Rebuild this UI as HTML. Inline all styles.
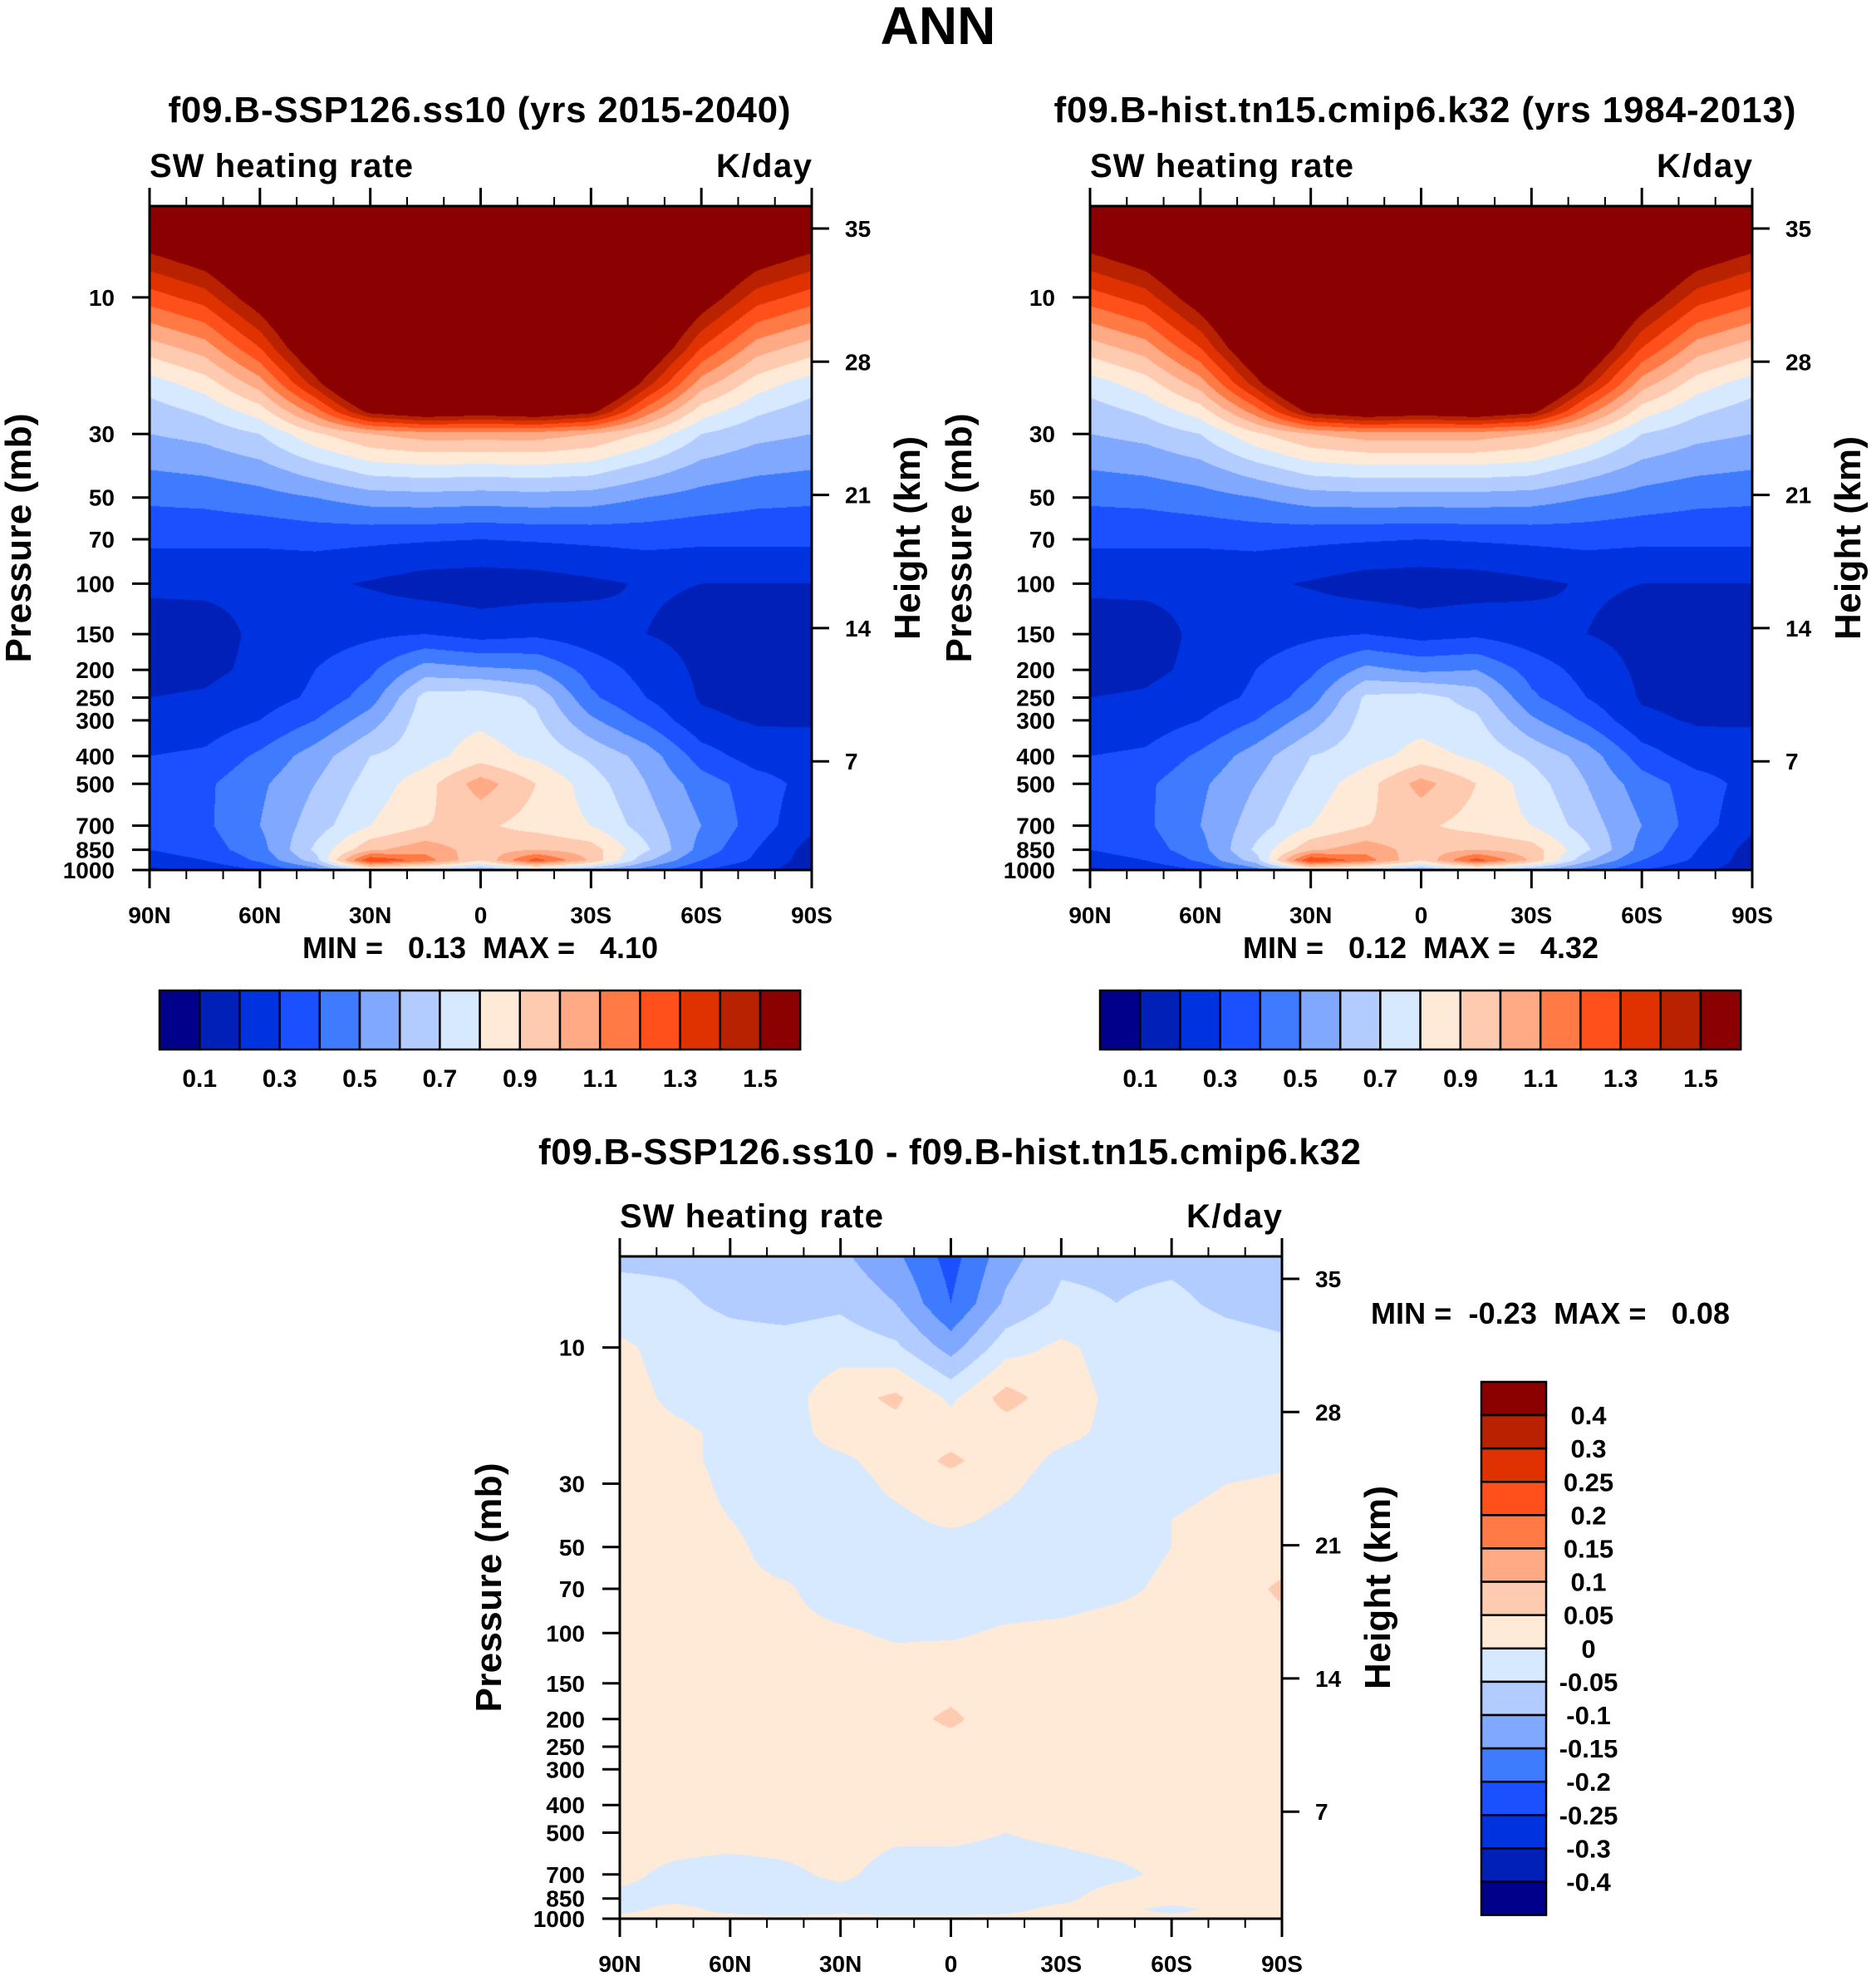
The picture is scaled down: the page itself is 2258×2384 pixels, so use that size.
<!DOCTYPE html>
<html><head><meta charset="utf-8"><title>ANN SW heating rate</title>
<style>
html,body{margin:0;padding:0;background:#fff;}
#wrap{position:relative;width:2258px;height:2384px;overflow:hidden;background:#fff;}
canvas{position:absolute;}
svg{position:absolute;left:0;top:0;}
text{font-family:"Liberation Sans",sans-serif;font-weight:bold;fill:#000;white-space:pre;}
</style></head>
<body>
<div id="wrap">
<canvas id="c1" width="797" height="799" style="left:180px;top:248px"></canvas>
<canvas id="c2" width="797" height="799" style="left:1312px;top:248px"></canvas>
<canvas id="c3" width="797" height="797" style="left:746px;top:1512px"></canvas>
<svg id="svg" width="2258" height="2384" xmlns="http://www.w3.org/2000/svg">
<text x="1129" y="53" font-size="64" text-anchor="middle">ANN</text>
</svg>
</div>
<script>
// ---------- data ----------
const lats = [90,75,60,45,30,15,0,-15,-30,-45,-60,-75,-90];
const levels = [4.8,7,10,15,20,25,30,40,50,70,100,150,200,250,300,400,500,700,850,925,1000];
const sspValues = [
[2,2,2,2,2,2,2,2,2,2,2,2,2],
[1.5,1.6,1.8,2,2,2,2,2,2,2,1.8,1.6,1.5],
[1.25,1.35,1.6,1.9,2,2,2,2,2,1.9,1.6,1.35,1.25],
[0.95,1.05,1.3,1.7,2,2,2,2,2,1.7,1.3,1.05,0.95],
[0.75,0.85,1.05,1.45,1.9,2,2,2,1.9,1.45,1.05,0.85,0.75],
[0.65,0.72,0.85,1.15,1.55,1.65,1.6,1.65,1.55,1.15,0.85,0.72,0.65],
[0.6,0.63,0.7,0.88,1.0,1.05,1.05,1.05,1.0,0.88,0.7,0.63,0.6],
[0.5,0.52,0.56,0.65,0.74,0.76,0.75,0.76,0.74,0.65,0.56,0.52,0.5],
[0.42,0.43,0.46,0.5,0.55,0.56,0.55,0.56,0.55,0.5,0.46,0.43,0.42],
[0.32,0.32,0.32,0.33,0.32,0.31,0.3,0.31,0.32,0.33,0.32,0.32,0.32],
[0.22,0.22,0.22,0.22,0.19,0.15,0.14,0.15,0.18,0.21,0.2,0.2,0.2],
[0.15,0.16,0.22,0.25,0.28,0.3,0.26,0.28,0.24,0.2,0.17,0.16,0.16],
[0.17,0.18,0.22,0.3,0.38,0.55,0.52,0.5,0.36,0.26,0.18,0.16,0.16],
[0.2,0.21,0.25,0.32,0.45,0.74,0.76,0.68,0.42,0.3,0.19,0.17,0.17],
[0.22,0.24,0.3,0.4,0.55,0.76,0.78,0.72,0.52,0.38,0.22,0.19,0.19],
[0.3,0.32,0.42,0.55,0.7,0.76,0.85,0.78,0.68,0.56,0.35,0.25,0.24],
[0.34,0.38,0.48,0.6,0.74,0.86,1.05,0.9,0.75,0.6,0.45,0.35,0.26],
[0.32,0.38,0.5,0.65,0.8,0.9,0.92,0.86,0.8,0.65,0.5,0.35,0.22],
[0.3,0.35,0.46,0.72,0.98,1.06,0.95,1.0,0.95,0.72,0.46,0.3,0.16],
[0.25,0.3,0.42,0.65,1.3,1.15,0.9,1.25,0.98,0.62,0.4,0.28,0.15],
[0.18,0.22,0.3,0.45,0.75,0.7,0.6,0.7,0.6,0.45,0.3,0.22,0.15]
];
const histValues = [
[2,2,2,2,2,2,2,2,2,2,2,2,2],
[1.5,1.6,1.8,2,2,2,2,2,2,2,1.8,1.6,1.5],
[1.25,1.35,1.6,1.9,2,2,2,2,2,1.9,1.6,1.35,1.25],
[0.95,1.05,1.3,1.7,2,2,2,2,2,1.7,1.3,1.05,0.95],
[0.75,0.85,1.05,1.45,1.9,2,2,2,1.9,1.45,1.05,0.85,0.75],
[0.65,0.72,0.85,1.15,1.55,1.65,1.6,1.65,1.55,1.15,0.85,0.72,0.65],
[0.6,0.63,0.7,0.88,1.0,1.05,1.05,1.05,1.0,0.88,0.7,0.63,0.6],
[0.5,0.52,0.56,0.65,0.74,0.76,0.76,0.76,0.74,0.65,0.56,0.52,0.5],
[0.42,0.43,0.46,0.5,0.55,0.56,0.56,0.56,0.55,0.5,0.46,0.43,0.42],
[0.32,0.32,0.32,0.33,0.32,0.31,0.3,0.31,0.32,0.33,0.32,0.32,0.32],
[0.22,0.22,0.22,0.22,0.19,0.15,0.14,0.15,0.18,0.21,0.2,0.2,0.2],
[0.15,0.16,0.22,0.25,0.28,0.3,0.26,0.28,0.24,0.2,0.17,0.16,0.16],
[0.17,0.18,0.22,0.3,0.38,0.53,0.48,0.5,0.36,0.26,0.18,0.16,0.16],
[0.2,0.21,0.25,0.32,0.45,0.72,0.74,0.66,0.42,0.3,0.19,0.17,0.17],
[0.22,0.24,0.3,0.4,0.55,0.74,0.76,0.72,0.52,0.38,0.22,0.19,0.19],
[0.3,0.32,0.42,0.55,0.7,0.76,0.84,0.78,0.68,0.56,0.35,0.25,0.24],
[0.34,0.38,0.48,0.6,0.74,0.86,1.04,0.9,0.75,0.6,0.45,0.35,0.26],
[0.32,0.38,0.5,0.65,0.8,0.9,0.92,0.86,0.8,0.65,0.5,0.35,0.22],
[0.3,0.35,0.46,0.72,0.98,1.06,0.95,1.0,0.95,0.72,0.46,0.3,0.16],
[0.25,0.3,0.42,0.65,1.3,1.15,0.9,1.25,0.98,0.62,0.4,0.28,0.15],
[0.18,0.22,0.3,0.45,0.75,0.7,0.6,0.7,0.6,0.45,0.3,0.22,0.15]
];
const diffValues = [
[-0.06,-0.06,-0.07,-0.08,-0.09,-0.14,-0.22,-0.12,-0.06,-0.06,-0.06,-0.07,-0.08],
[-0.03,-0.04,-0.06,-0.07,-0.06,-0.1,-0.2,-0.09,-0.04,-0.05,-0.04,-0.06,-0.07],
[0.01,-0.02,-0.03,-0.03,-0.02,-0.04,-0.12,-0.02,0.01,-0.02,-0.02,-0.03,-0.04],
[0.02,-0.01,-0.02,-0.02,0.03,0.06,-0.01,0.07,0.02,-0.01,-0.02,-0.02,-0.02],
[0.02,0.01,-0.01,-0.02,0.02,0.03,0.03,0.02,0.01,-0.01,-0.02,-0.02,-0.02],
[0.02,0.01,-0.01,-0.02,-0.01,0.02,0.06,0.02,-0.01,-0.02,-0.02,-0.02,-0.01],
[0.02,0.02,-0.01,-0.02,-0.02,0.01,0.03,0.01,-0.02,-0.02,-0.01,0.0,0.01],
[0.03,0.02,0.0,-0.02,-0.02,-0.01,0.01,-0.01,-0.02,-0.02,0.0,0.01,0.02],
[0.03,0.02,0.01,-0.02,-0.02,-0.02,-0.02,-0.02,-0.02,-0.02,0.0,0.02,0.02],
[0.03,0.02,0.01,0.005,-0.02,-0.02,-0.02,-0.02,-0.02,-0.01,0.01,0.02,0.06],
[0.03,0.02,0.02,0.01,0.005,-0.005,-0.005,0.005,0.01,0.02,0.02,0.02,0.03],
[0.02,0.02,0.02,0.02,0.02,0.02,0.03,0.02,0.02,0.02,0.02,0.02,0.02],
[0.02,0.02,0.02,0.02,0.02,0.03,0.06,0.02,0.02,0.02,0.02,0.02,0.02],
[0.02,0.02,0.02,0.02,0.02,0.02,0.03,0.02,0.02,0.02,0.02,0.02,0.02],
[0.02,0.02,0.02,0.02,0.02,0.02,0.02,0.02,0.02,0.02,0.02,0.02,0.02],
[0.02,0.02,0.02,0.02,0.02,0.02,0.02,0.02,0.02,0.02,0.02,0.02,0.02],
[0.02,0.02,0.02,0.02,0.02,0.01,0.01,0.0,0.01,0.02,0.02,0.02,0.02],
[0.01,-0.01,-0.02,-0.01,0.01,-0.02,-0.02,-0.02,-0.02,-0.01,0.01,0.02,0.02],
[-0.01,-0.01,-0.02,-0.02,-0.02,-0.02,-0.02,-0.02,-0.01,0.02,0.02,0.02,0.02],
[-0.01,0.01,-0.01,-0.02,-0.01,-0.02,-0.02,-0.01,0.01,0.01,-0.01,0.01,0.01],
[0.01,0.01,0.01,0.01,0.01,0.01,0.01,0.01,0.01,0.01,0.01,0.01,0.01]
];
const absBounds = [0.1,0.2,0.3,0.4,0.5,0.6,0.7,0.8,0.9,1.0,1.1,1.2,1.3,1.4,1.5];
const absLabels = ["0.1","0.3","0.5","0.7","0.9","1.1","1.3","1.5"];
const diffBounds = [-0.4,-0.3,-0.25,-0.2,-0.15,-0.1,-0.05,0,0.05,0.1,0.15,0.2,0.25,0.3,0.4];
const diffLabels = ["0.4","0.3","0.25","0.2","0.15","0.1","0.05","0","-0.05","-0.1","-0.15","-0.2","-0.25","-0.3","-0.4"];
const colors = ["#00008B","#0020B8","#0033E0","#1A50FF","#3F7BFF","#80A8FF","#B3CCFF","#D7E9FF","#FFEAD8","#FFCBB0","#FFAA85","#FF7A45","#FF4F1A","#E03200","#B82200","#8B0000"];
const presTicks = [10,30,50,70,100,150,200,250,300,400,500,700,850,1000];
const heightTicks = [35,28,21,14,7];
const latTicks = [90,60,30,0,-30,-60,-90];
const latTickLabels = ["90N","60N","30N","0","30S","60S","90S"];

// ---------- helpers ----------
const NS = "http://www.w3.org/2000/svg";
const svg = document.getElementById("svg");
const PTOP = 4.8, PBOT = 1000;
function mk(tag, attrs, txt){
  const e = document.createElementNS(NS, tag);
  for (const k in attrs) e.setAttribute(k, attrs[k]);
  if (txt !== undefined) e.textContent = txt;
  svg.appendChild(e);
  return e;
}
function hexToRgb(h){return [parseInt(h.substr(1,2),16),parseInt(h.substr(3,2),16),parseInt(h.substr(5,2),16)];}
const rgb = colors.map(hexToRgb);
function binOf(v, bounds){let i=0; while(i<bounds.length && v>=bounds[i]) i++; return i;}
function sample(values, lat, p){
  let li = (90-lat)/15; li = Math.max(0,Math.min(lats.length-1.0001,li));
  const i0 = Math.floor(li), fx = li-i0;
  const lp = Math.log10(p);
  let j0 = 0;
  while (j0 < levels.length-2 && Math.log10(levels[j0+1]) < lp) j0++;
  const a = Math.log10(levels[j0]), b = Math.log10(levels[j0+1]);
  let fy = (lp-a)/(b-a); fy = Math.max(0,Math.min(1,fy));
  const v00 = values[j0][i0], v01 = values[j0][i0+1], v10 = values[j0+1][i0], v11 = values[j0+1][i0+1];
  return (v00*(1-fx)+v01*fx)*(1-fy) + (v10*(1-fx)+v11*fx)*fy;
}
function drawField(id, values, bounds){
  const c = document.getElementById(id), ctx = c.getContext("2d");
  const W = c.width, H = c.height, img = ctx.createImageData(W,H);
  const dec = Math.log10(PBOT/PTOP);
  for (let y=0;y<H;y++){
    const p = PTOP*Math.pow(10, (y+0.5)/H*dec);
    for (let x=0;x<W;x++){
      const lat = 90 - (x+0.5)/W*180;
      const col = rgb[binOf(sample(values,lat,p), bounds)];
      const k = (y*W+x)*4;
      img.data[k]=col[0]; img.data[k+1]=col[1]; img.data[k+2]=col[2]; img.data[k+3]=255;
    }
  }
  ctx.putImageData(img,0,0);
}

function drawAxes(L, T, W, H, opts){
  const xOf = lat => L + (90-lat)/180*W;
  const yOfP = p => T + Math.log10(p/PTOP)/Math.log10(PBOT/PTOP)*H;
  const yOfH = h => T + 27 + (35-h)*160.3/7;
  const fr = mk("rect",{x:L,y:T,width:W,height:H,fill:"none",stroke:"#000","stroke-width":3});
  
  
  for (let lat=90; lat>=-90; lat-=10){
    const x = xOf(lat), major = (lat%30===0), len = major?22:11;
    const t1 = mk("line",{x1:x,y1:T,x2:x,y2:T-len,stroke:"#000","stroke-width":major?3:2});
    
    
    const t2 = mk("line",{x1:x,y1:T+H,x2:x,y2:T+H+len,stroke:"#000","stroke-width":major?3:2});
    
    
  }
  latTicks.forEach((lat,i)=>{
    const t = mk("text",{x:xOf(lat),y:T+H+64,"font-size":28,"text-anchor":"middle"},latTickLabels[i]);
    
    
  });
  presTicks.forEach(p=>{
    const y = yOfP(p);
    const l = mk("line",{x1:L-21,y1:y,x2:L,y2:y,stroke:"#000","stroke-width":3});
    
    
    const t = mk("text",{x:L-42,y:y+10,"font-size":28,"text-anchor":"end"},String(p));
    
    
  });
  heightTicks.forEach(h=>{
    const y = yOfH(h);
    const l = mk("line",{x1:L+W,y1:y,x2:L+W+21,y2:y,stroke:"#000","stroke-width":3});
    
    
    const t = mk("text",{x:L+W+40,y:y+10,"font-size":28},String(h));
    
    
  });
  const yt = mk("text",{x:0,y:0,"font-size":44,"text-anchor":"middle",textLength:300,transform:`translate(${L-143},${T+H/2}) rotate(-90)`},"Pressure (mb)");
  
  
  const ht = mk("text",{x:0,y:0,"font-size":44,"text-anchor":"middle",textLength:245,transform:`translate(${L+W+130},${T+H/2}) rotate(-90)`},"Height (km)");
  
  
  const sw = mk("text",{x:L,y:T-35,"font-size":40,textLength:317},"SW heating rate");
  
  
  const un = mk("text",{x:L+W-115,y:T-35,"font-size":40,textLength:115},"K/day");
  
  
  const ti = mk("text",{x:opts.titleX-opts.titleW/2,y:opts.titleY,"font-size":44,textLength:opts.titleW},opts.title);
  
  
}
function hColorbar(L, T, prefix){
  const bw = 48.2, bh = 71;
  colors.forEach((c,i)=>{
    const r = mk("rect",{x:L+i*bw,y:T,width:bw,height:bh,fill:c,stroke:"#000","stroke-width":2.5});
    
    
  });
  absLabels.forEach((s,i)=>{
    const t = mk("text",{x:L+(2*i+1)*bw,y:T+116,"font-size":30,"text-anchor":"middle"},s);
    
    
  });
}

// ---------- draw ----------
drawField("c1", sspValues, absBounds);
drawField("c2", histValues, absBounds);
drawField("c3", diffValues, diffBounds);

drawAxes(180,248,797,799,{prefix:"ssp126",title:"f09.B-SSP126.ss10 (yrs 2015-2040)",titleY:147,titleX:577,titleW:749});
drawAxes(1312,248,797,799,{prefix:"hist",title:"f09.B-hist.tn15.cmip6.k32 (yrs 1984-2013)",titleY:147,titleX:1715,titleW:893});
drawAxes(746,1512,797,797,{prefix:"diff",title:"f09.B-SSP126.ss10 - f09.B-hist.tn15.cmip6.k32",titleY:1401,titleX:1143,titleW:990});

const m1 = mk("text",{x:364,y:1153,"font-size":36,textLength:428},"MIN =   0.13  MAX =   4.10");


const m2 = mk("text",{x:1496,y:1153,"font-size":36,textLength:428},"MIN =   0.12  MAX =   4.32");


const m3 = mk("text",{x:1650,y:1593,"font-size":36,textLength:432},"MIN =  -0.23  MAX =   0.08");



hColorbar(192,1192,"ssp126");
hColorbar(1324,1192,"hist");

const vL = 1783, vT = 1663, vW = 78, vH = 40.1;
colors.slice().reverse().forEach((c,i)=>{
  const r = mk("rect",{x:vL,y:vT+i*vH,width:vW,height:vH,fill:c,stroke:"#000","stroke-width":2.5});
  
  
});
diffLabels.forEach((s,i)=>{
  const t = mk("text",{x:1912,y:vT+(i+1)*vH+11,"font-size":31,"text-anchor":"middle"},s);
  
  
});
</script>
</body></html>
